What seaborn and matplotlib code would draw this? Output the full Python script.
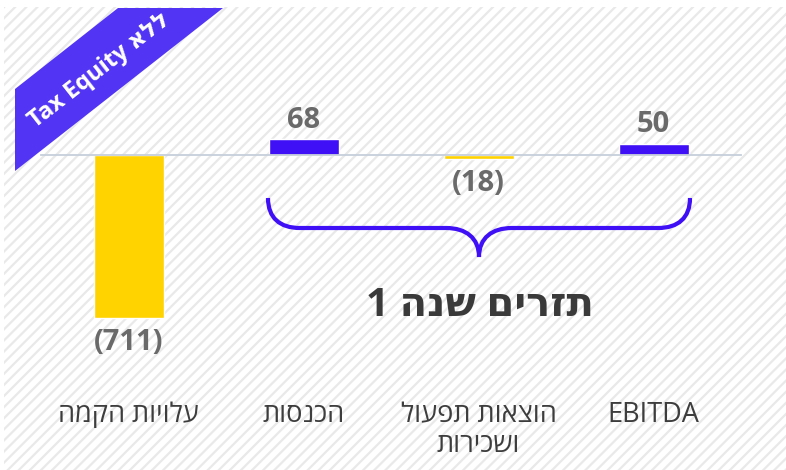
import matplotlib
matplotlib.use("Agg")
import matplotlib.pyplot as plt
from matplotlib.patches import Rectangle, Polygon, PathPatch
from matplotlib.path import Path
from matplotlib.transforms import Affine2D
import pandas as pd
import seaborn as sns

# ---- data -------------------------------------------------------------
categories = ["עלויות הקמה", "הכנסות", "הוצאות תפעול\nושכירות", "EBITDA"]
values = [-711, 68, -18, 50]
bar_colors = ["#FFD300", "#3F0FF5", "#FFD300", "#3F0FF5"]
group_title = "תזרים שנה 1"
ribbon_text = "ללא Tax Equity"

W, H = 786, 470


def visual(text):
    """Reorder right-to-left lines so matplotlib draws them in reading order."""
    lines = []
    for line in text.split("\n"):
        runs = []
        for word in line.split(" "):
            rtl = any("\u0590" <= c <= "\u05FF" for c in word)
            if runs and not rtl and not runs[-1][0]:
                runs[-1][1].append(word)
            else:
                runs.append([rtl, [word]])
        parts = []
        for rtl, words in reversed(runs):
            if rtl:
                parts.append(" ".join(w[::-1] for w in reversed(words)))
            else:
                parts.append(" ".join(words))
        lines.append(" ".join(parts))
    return "\n".join(lines)


def value_text(v):
    return f"({abs(v)})" if v < 0 else f"{v}"


sns.set_style("white")
plt.rcParams["font.family"] = ["Open Sans", "DejaVu Sans"]
plt.rcParams["hatch.linewidth"] = 1.6

fig = plt.figure(figsize=(W / 100, H / 100), dpi=100, facecolor="white")
px = Affine2D().scale(1 / W, -1 / H).translate(0, 1) + fig.transFigure

# striped backdrop
fig.add_artist(Rectangle((4, 7), W - 4, H - 7, transform=px, facecolor="white",
                         edgecolor="#e9e9e9", linewidth=0, hatch="///", zorder=-5))

# plotting area: zero line sits at y=155 px, 163 px per 711 units
ax_top, ax_bottom, zero_px = 20, 380, 155
scale = 163 / 711
ax = fig.add_axes([41 / W, 1 - ax_bottom / H, 700 / W, (ax_bottom - ax_top) / H])
ax.set_facecolor("none")

df = pd.DataFrame({"category": [visual(c) for c in categories], "value": values})
sns.barplot(data=df, x="category", y="value", hue="category", palette=bar_colors,
            width=0.4, saturation=1, legend=False, ax=ax)

ax.set_xlim(-0.5, 3.5)
ax.set_ylim(-(ax_bottom - zero_px) / scale, (zero_px - ax_top) / scale)

for container, v in zip(ax.containers, values):
    ax.bar_label(container, labels=[value_text(v)], padding=3 if v > 0 else 7,
                 fontsize=21, fontweight="bold", color="#6a6a6a")

for side in ["top", "left", "right"]:
    ax.spines[side].set_visible(False)
ax.spines["bottom"].set_position(("data", 0))
ax.spines["bottom"].set_color("#c6cfdc")
ax.spines["bottom"].set_linewidth(1.3)
ax.set_yticks([])
ax.set_xlabel("")
ax.set_ylabel("")
ax.set_xticks([-0.5, 0.5, 1.5, 2.5, 3.5], minor=True)
ax.tick_params(axis="x", which="minor", direction="in", length=6, width=1.3,
               color="#c6cfdc")
ax.tick_params(axis="x", which="major", length=0, pad=177, labelsize=19.5,
               labelcolor="#3d3d3d")
for lbl in ax.get_xticklabels():
    lbl.set_linespacing(1.1)

# brace under the first-year cash-flow items
brace = Path(
    [(268, 198), (268, 218), (280, 228), (300, 228),
     (446, 228),
     (466, 228), (479, 238), (479, 257),
     (479, 238), (492, 228), (512, 228),
     (658, 228),
     (678, 228), (690, 218), (690, 198)],
    [Path.MOVETO, Path.CURVE4, Path.CURVE4, Path.CURVE4,
     Path.LINETO,
     Path.CURVE4, Path.CURVE4, Path.CURVE4,
     Path.CURVE4, Path.CURVE4, Path.CURVE4,
     Path.LINETO,
     Path.CURVE4, Path.CURVE4, Path.CURVE4])
fig.add_artist(PathPatch(brace, transform=px, facecolor="none",
                         edgecolor="#3F0FF5", linewidth=3, capstyle="butt"))
fig.text(480 / W, 1 - 305 / H, visual(group_title), ha="center", va="center",
         fontsize=29, fontweight="bold", color="#3a3a3a")

# corner ribbon
fig.add_artist(Polygon([(15, 89), (118, 8), (223, 8), (15, 171)], closed=True,
                       transform=px, facecolor="#5234F5", edgecolor="none", zorder=10))
fig.text(100 / W, 1 - 70 / H, visual(ribbon_text), ha="center", va="center",
         rotation=38, rotation_mode="anchor", fontsize=17, fontweight="bold",
         color="white", zorder=11)

fig.savefig("out.png", dpi=100, facecolor="white")
